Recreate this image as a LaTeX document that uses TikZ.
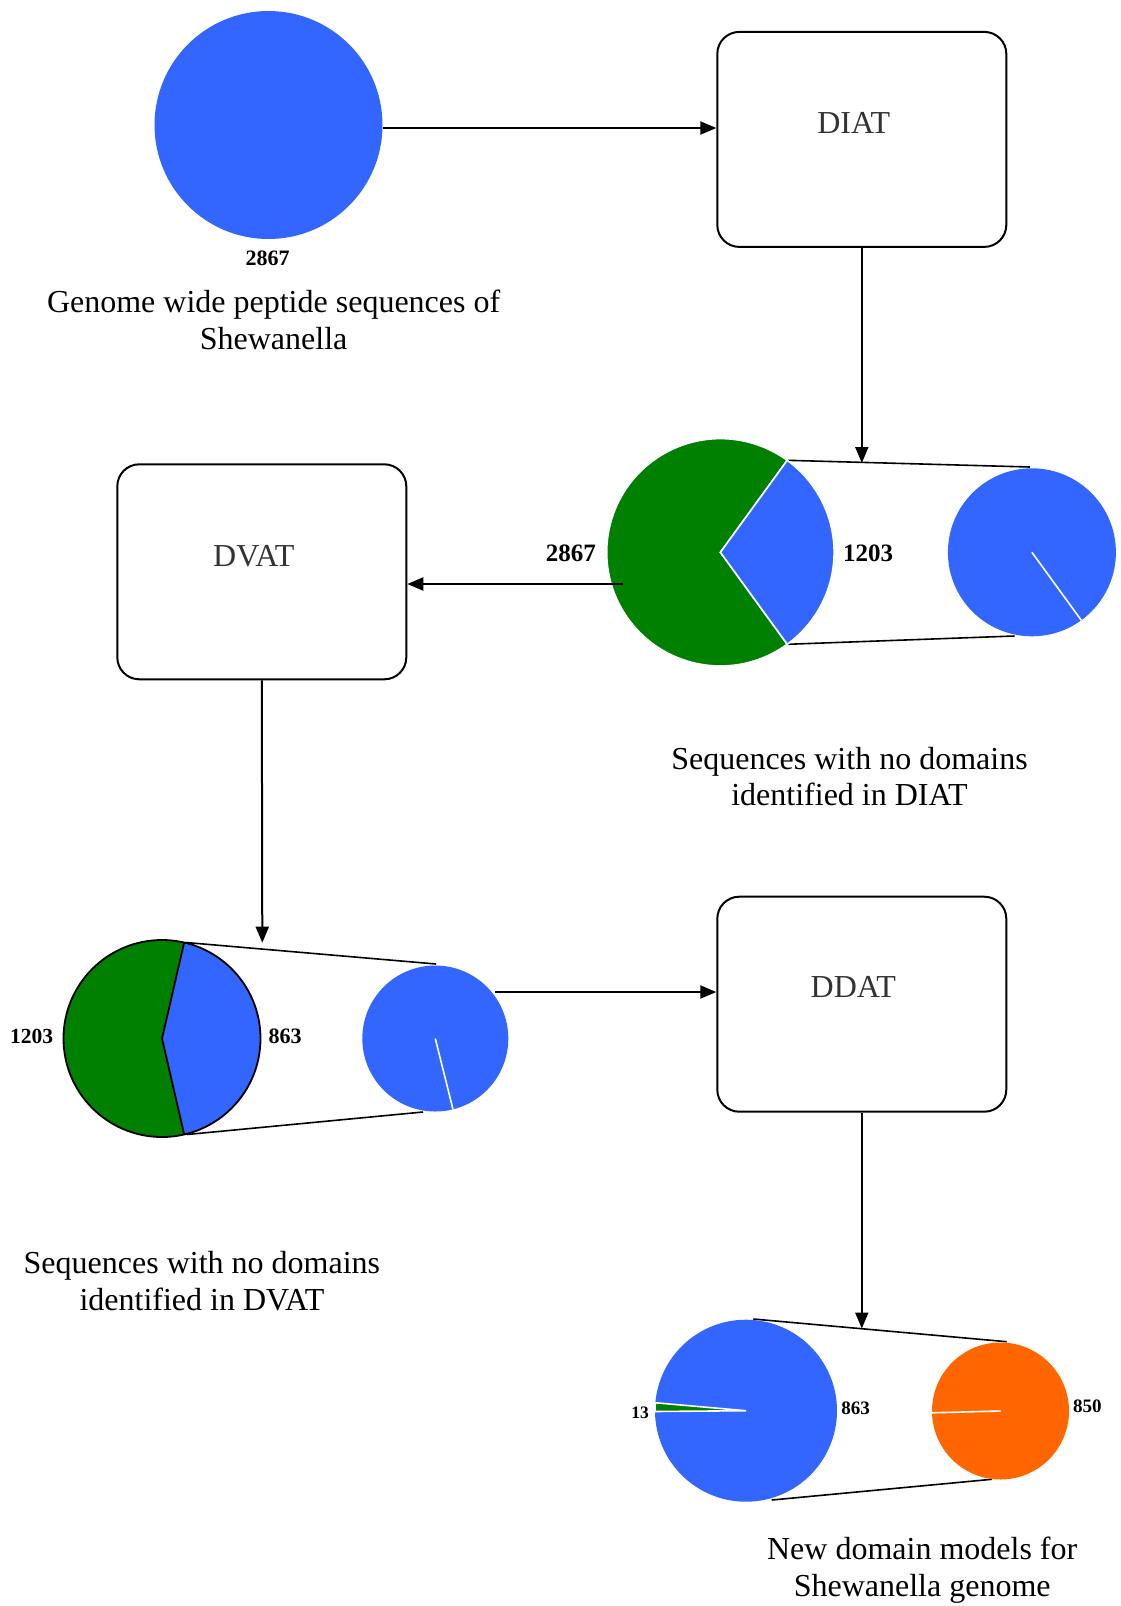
\documentclass[tikz,border=0pt]{standalone}
\usepackage{fontspec}
\setmainfont{Liberation Serif}
\usetikzlibrary{arrows.meta,calc}
\definecolor{pieblue}{HTML}{3366FF}
\definecolor{piegreen}{HTML}{008000}
\definecolor{pieorange}{HTML}{FF6600}
\definecolor{boxgray}{HTML}{333333}
\tikzset{
  flowbox/.style={draw, line width=2pt, rounded corners=22pt, minimum width=289pt, minimum height=215pt, inner sep=0pt},
  boxtext/.style={text=boxgray, font=\fontsize{32}{36}\selectfont, inner sep=0pt},
  link/.style={line width=2pt, -{Triangle[length=16pt,width=13pt]}},
  zoomline/.style={line width=1.6pt},
  piedisc/.style={circle, inner sep=0pt, minimum size=#1},
  count/.style={font=\bfseries\fontsize{#1}{#1}\selectfont, inner sep=0pt},
  caption/.style={align=center, font=\fontsize{32}{36.8}\selectfont, inner sep=0pt},
  cut/.style={draw=white, line width=1.6pt},
}
\begin{document}
\begin{tikzpicture}[x=1pt,y=-1pt]
\useasboundingbox (0,0) rectangle (1121,1606);

% ---------- stage 1: whole genome ----------
\node[piedisc=228pt, fill=pieblue] (src) at (268.5,125) {};
\node[count=22] (n-src) at (267.5,258) {2867};
\node[caption] (cap-src) at (273.6,320) {Genome wide peptide sequences of\\Shewanella};

\node[flowbox] (diat) at (861.8,139.4) {};
\node[boxtext] (diat-t) at ($(diat.center)+(-8,-16)$) {DIAT};
\coordinate (out1) at ($(src.east)+(0,3)$);
\draw[link] (out1) -- (out1 -| diat.west);

% ---------- stage 2: DIAT result ----------
\coordinate (d2a) at (787.2,460.3);
\coordinate (d2b) at (787.2,644.3);
\coordinate (d2c) at (1030,467);
\coordinate (d2d) at (1014.5,636);
\draw[zoomline] (d2a) -- (d2c);
\draw[zoomline] (d2b) -- (d2d);

\node[piedisc=227.4pt] (pie2) at (720.4,552.3) {};
\fill[piegreen, cut] (pie2.center) -- ++(54:113.7) arc[start angle=54, end angle=306, radius=113.7] -- cycle;
\fill[pieblue, cut] (pie2.center) -- ++(-54:113.7) arc[start angle=-54, end angle=54, radius=113.7] -- cycle;
\node[count=25] (n-pie2l) at (570.8,553.4) {2867};
\node[count=25] (n-pie2r) at (868,553.4) {1203};

\node[piedisc=168pt, fill=pieblue] (sub2) at (1031.9,552.3) {};
\draw[cut] (sub2.center) -- ++(54:84);

\coordinate (hit2) at (861.8,463);
\draw[link] (diat.south) -- (hit2);

\node[caption] (cap2) at (849.5,776.5) {Sequences with no domains\\identified in DIAT};

\node[flowbox] (dvat) at (261.8,571.8) {};
\node[boxtext] (dvat-t) at ($(dvat.center)+(-8,-16)$) {DVAT};
\coordinate (tap2) at (623,584);
\draw[link] (tap2) -- (tap2 -| dvat.east);

% ---------- stage 3: DVAT result ----------
\coordinate (d3a) at (186,942.5);
\coordinate (d3b) at (187,1134.5);
\coordinate (d3c) at (436,964);
\coordinate (d3d) at (423,1112);
\draw[zoomline] (d3a) -- (d3c);
\draw[zoomline] (d3b) -- (d3d);

\node[piedisc=197pt] (pie3) at (162,1038.5) {};
\fill[piegreen] (pie3.center) -- ++(77:98.5) arc[start angle=77, end angle=283, radius=98.5] -- cycle;
\fill[pieblue] (pie3.center) -- ++(-77:98.5) arc[start angle=-77, end angle=77, radius=98.5] -- cycle;
\draw[line width=1.8pt, line join=round] (pie3.center) ++(77:98.5) -- (pie3.center) -- ++(-77:98.5);
\draw[line width=1.8pt] (pie3.center) circle[radius=98.5];
\node[count=21.5] (n-pie3l) at (31.7,1036.7) {1203};
\node[count=22] (n-pie3r) at (285,1036.7) {863};

\node[piedisc=146pt, fill=pieblue] (sub3) at (435.3,1038.5) {};
\draw[cut] (sub3.center) -- ++(76:73);

\coordinate (hit3) at (262.3,942.7);
\draw[link] (dvat.south) -- (hit3);

\node[caption] (cap3) at (201.9,1280.8) {Sequences with no domains\\identified in DVAT};

\node[flowbox] (ddat) at (861.8,1004.2) {};
\node[boxtext] (ddat-t) at ($(ddat.center)+(-8.5,-17)$) {DDAT};
\coordinate (tap3) at (495,992);
\draw[link] (tap3) -- (tap3 -| ddat.west);

% ---------- stage 4: DDAT result ----------
\coordinate (d4a) at (753.3,1319);
\coordinate (d4b) at (771.7,1500);
\coordinate (d4c) at (1006.7,1341.7);
\coordinate (d4d) at (991.7,1479.3);
\draw[zoomline] (d4a) -- (d4c);
\draw[zoomline] (d4b) -- (d4d);

\node[piedisc=182pt, fill=pieblue] (pie4) at (746,1410.7) {};
\fill[piegreen, cut] (pie4.center) -- ++(179.5:91) arc[start angle=179.5, end angle=185, radius=91] -- cycle;
\node[count=17.5] (n-pie4l) at (640,1412.7) {13};
\node[count=19] (n-pie4r) at (855.7,1408.3) {863};

\node[piedisc=137pt, fill=pieorange] (sub4) at (1000.5,1411) {};
\draw[cut] (sub4.center) -- ++(178.5:68.5);
\node[count=19] (n-sub4) at (1087.3,1406.7) {850};

\coordinate (hit4) at (861.8,1328.5);
\draw[link] (ddat.south) -- (hit4);

\node[caption] (cap4) at (922.2,1570) {New domain models for\\Shewanella genome};
\end{tikzpicture}
\end{document}
